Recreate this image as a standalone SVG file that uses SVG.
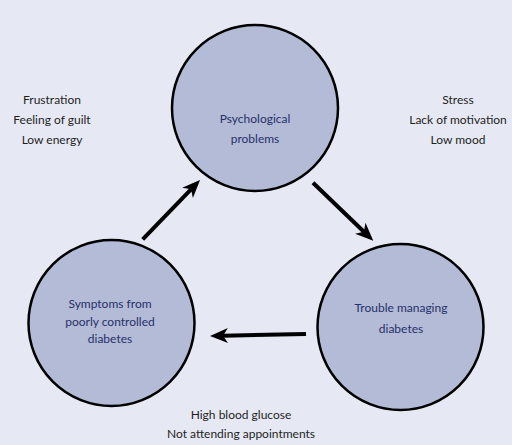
<svg xmlns="http://www.w3.org/2000/svg" width="512" height="445" viewBox="0 0 512 445">
<defs>
<style>
.node circle{fill:#b3bbd6;stroke:#000;stroke-width:2.5}
.nt{font-family:Lato,"Open Sans",sans-serif;font-size:12px;fill:#27306a;text-anchor:middle}
.st{font-family:Lato,"Open Sans",sans-serif;font-size:12px;fill:#1e1e1e;text-anchor:middle}
.conn line{stroke:#000;stroke-width:4;fill:none}
</style>
<marker id="ah" markerUnits="userSpaceOnUse" markerWidth="20" markerHeight="18" refX="5" refY="9" orient="auto" viewBox="0 0 20 18">
<path d="M0,1.5 L18,9 L0,16.5 L5,9 Z" fill="#000"/>
</marker>
</defs>
<rect width="512" height="445" fill="#e6e9f3"/>
<g id="psych" class="node">
<circle cx="255" cy="108" r="83"/>
<text class="nt" x="255" y="123">Psychological</text>
<text class="nt" x="255" y="143">problems</text>
</g>
<g id="symptoms" class="node">
<circle cx="111.5" cy="323" r="83"/>
<text class="nt" x="110" y="308">Symptoms from</text>
<text class="nt" x="110" y="326">poorly controlled</text>
<text class="nt" x="110" y="343">diabetes</text>
</g>
<g id="trouble" class="node">
<circle cx="400.5" cy="327" r="83"/>
<text class="nt" x="401" y="312">Trouble managing</text>
<text class="nt" x="401" y="333">diabetes</text>
</g>
<g id="conn" class="conn">
<line x1="142.7" y1="239.3" x2="191" y2="189.3" marker-end="url(#ah)"/>
<line x1="313" y1="182.7" x2="363.9" y2="231.7" marker-end="url(#ah)"/>
<line x1="306" y1="334" x2="223" y2="335.7" marker-end="url(#ah)"/>
</g>
<g id="labels-left">
<text class="st" x="52" y="104">Frustration</text>
<text class="st" x="52" y="124">Feeling of guilt</text>
<text class="st" x="52" y="144">Low energy</text>
</g>
<g id="labels-right">
<text class="st" x="458" y="104">Stress</text>
<text class="st" x="458" y="124">Lack of motivation</text>
<text class="st" x="458" y="144">Low mood</text>
</g>
<g id="labels-bottom">
<text class="st" x="241" y="419">High blood glucose</text>
<text class="st" x="241" y="438">Not attending appointments</text>
</g>
</svg>
